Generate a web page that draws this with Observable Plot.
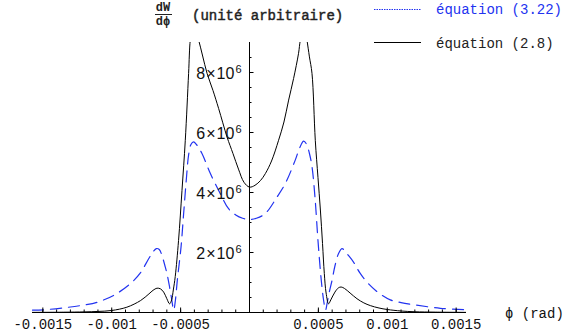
<!DOCTYPE html>
<html><head><meta charset="utf-8">
<script src="https://cdn.jsdelivr.net/npm/d3@7"></script>
<script src="https://cdn.jsdelivr.net/npm/@observablehq/plot@0.6"></script>
<style>
body{margin:0;background:#fff;}
#wrap{position:relative;width:566px;height:333px;background:#fff;}
#wrap svg{position:absolute;left:0;top:0;}
</style></head><body><div id="wrap"></div>
<script>
// φ in units of 1e-3 rad, dW/dφ in units of 1e6
const phiBlack = [-1.575,-1.35,-1.2,-1.1,-1.0,-0.89,-0.79,-0.73,-0.70,-0.671,-0.647,-0.623,-0.60,-0.58,-0.565,-0.553,-0.539,-0.515,-0.490,-0.466,-0.442,-0.43,-0.415,-0.395,-0.369,-0.34,-0.308,-0.265,-0.224,-0.163,-0.12,-0.08,-0.04,0,
  0.04,0.08,0.115,0.16,0.211,0.25,0.284,0.32,0.356,0.369,0.39,0.405,0.417,0.435,0.4536,0.4775,0.497,0.514,0.53,0.543,0.556,0.574,0.59,0.62,0.645,0.665,0.69,0.73,0.78,0.83,0.877,0.94,1.0,1.1,1.2,1.35,1.575];
const wBlack = [0.004,0.01,0.02,0.035,0.067,0.177,0.40,0.62,0.74,0.81,0.79,0.68,0.46,0.29,0.42,0.75,1.2,2.40,4.07,5.74,7.97,9.08,9.5,9.5,9.08,8.55,7.97,7.4,6.8,5.85,5.3,4.78,4.34,4.18,
  4.24,4.40,4.63,5.05,5.74,6.35,7.08,7.8,8.64,9.08,9.45,9.4,9.08,8.52,7.97,5.74,4.5,3.45,2.3,1.3,0.65,0.29,0.42,0.68,0.82,0.85,0.8,0.65,0.46,0.32,0.23,0.15,0.1,0.05,0.025,0.012,0.004];
const phiBlue = [-1.575,-1.494,-1.324,-1.2,-1.107,-0.986,-0.865,-0.792,-0.732,-0.70,-0.676,-0.655,-0.632,-0.611,-0.599,-0.58,-0.565,-0.55,-0.538,-0.524,-0.497,-0.478,-0.459,-0.442,-0.425,-0.406,-0.385,-0.345,-0.284,-0.212,-0.152,-0.1,-0.05,0,
  0.05,0.115,0.2,0.26,0.332,0.365,0.393,0.415,0.435,0.454,0.477,0.497,0.521,0.538,0.552,0.565,0.58,0.599,0.62,0.645,0.671,0.69,0.71,0.755,0.80,0.853,0.93,1.022,1.1,1.191,1.385,1.575];
const wBlue = [0.08,0.09,0.17,0.25,0.34,0.57,0.96,1.32,1.79,2.02,2.13,2.1,1.85,1.51,1.30,0.85,0.45,0.08,0.4,1.07,2.18,3.30,4.41,5.25,5.6,5.69,5.6,5.30,4.63,3.96,3.46,3.25,3.14,3.1,
  3.14,3.30,3.85,4.30,5.08,5.5,5.71,5.6,5.3,4.85,3.74,2.40,1.07,0.4,0.08,0.35,0.7,1.07,1.55,1.95,2.13,2.07,1.95,1.68,1.33,1.01,0.68,0.42,0.33,0.26,0.14,0.09];

const seriesNames = ["équation (3.22)", "équation (2.8)"];
const xTickValues = [-0.0015,-0.001,-0.0005,0.0005,0.001,0.0015];
const xTickLabels = ["-0.0015","-0.001","-0.0005","0.0005","0.001","0.0015"];
const yTickValues = [2e6,4e6,6e6,8e6];
const yTickLabels = ["2×10^6","4×10^6","6×10^6","8×10^6"];
const xMinor = d3.range(-15,16).map(k => k*1e-4);
const yMinor = d3.range(1,18).map(k => k*5e5);

const blackData = phiBlack.map((p,i) => ({x: p*1e-3, y: wBlack[i]*1e6}));
const blueData = phiBlue.map((p,i) => ({x: p*1e-3, y: wBlue[i]*1e6}));

const BLUE = "#2233f0";
const mono = "Liberation Mono, DejaVu Sans Mono, monospace";
const sans = "Liberation Sans, Arial, sans-serif";

const plot = Plot.plot({
  width: 566, height: 333,
  marginLeft: 32, marginRight: 100, marginTop: 42, marginBottom: 21,
  x: {domain: [-0.001575, 0.001575], axis: null},
  y: {domain: [0, 9e6], axis: null},
  style: {background: "white", overflow: "visible"},
  marks: [
    Plot.line(blueData, {x: "x", y: "y", stroke: BLUE, strokeWidth: 1.2, strokeDasharray: "11,7", curve: "catmull-rom", clip: true}),
    Plot.line(blackData, {x: "x", y: "y", stroke: "black", strokeWidth: 1, curve: "catmull-rom", clip: true}),
    Plot.ruleY([0], {stroke: "black"}),
    Plot.ruleX([0], {stroke: "black"}),
    Plot.ruleX(xMinor, {x: d => d, y1: 0, y2: 0, insetTop: -2.5, stroke: "black"}),
    Plot.ruleX(xTickValues, {x: d => d, y1: 0, y2: 0, insetTop: -4.5, stroke: "black"}),
    Plot.ruleY(yMinor, {y: d => d, x1: 0, x2: 0, insetRight: -2.5, stroke: "black"}),
    Plot.ruleY(yTickValues, {y: d => d, x1: 0, x2: 0, insetRight: -4.5, stroke: "black"}),
    Plot.text(xTickValues, {x: d => d, y: 0, text: (d, i) => xTickLabels[i], dy: 12, fontFamily: mono, fontSize: 14, fill: "#111"}),
    Plot.text(yTickValues, {x: 0, y: d => d, text: (d, i) => yTickLabels[i], dx: -8, dy: 1, textAnchor: "end", fontFamily: sans, fontSize: 16, fill: "#111"})
  ]
});
document.getElementById("wrap").appendChild(plot);

// superscripts for y tick labels
d3.select(plot).selectAll("text").each(function() {
  const t = this.textContent;
  const m = /^(\d)×10\^(\d)$/.exec(t);
  if (m) {
    const s = d3.select(this);
    s.text(null);
    s.append("tspan").text(m[1]);
    s.append("tspan").attr("dx", 1).text("×");
    s.append("tspan").attr("dx", 1).text("10");
    s.append("tspan").attr("font-size", 11).attr("dy", -6).attr("dx", 1).text(m[2]);
  }
});

// annotations: title, legend, axis label
const ov = d3.select("#wrap").append("svg").attr("width", 566).attr("height", 333);
ov.append("text").attr("x", 163).attr("y", 10.5).attr("text-anchor", "middle")
  .attr("font-family", mono).attr("font-weight", "bold").attr("font-size", 12).attr("fill", "#222").text("dW");
ov.append("line").attr("x1", 155).attr("x2", 172).attr("y1", 14.5).attr("y2", 14.5).attr("stroke", "#222").attr("stroke-width", 1);
ov.append("text").attr("x", 163).attr("y", 25).attr("text-anchor", "middle")
  .attr("font-family", mono).attr("font-weight", "bold").attr("font-size", 12).attr("fill", "#222").text("dϕ");
ov.append("text").attr("x", 192).attr("y", 20)
  .attr("font-family", mono).attr("font-size", 14).attr("fill", "#222")
  .attr("stroke", "#222").attr("stroke-width", 0.45).text("(unité arbitraire)");

ov.append("line").attr("x1", 374).attr("x2", 421).attr("y1", 9.5).attr("y2", 9.5)
  .attr("stroke", BLUE).attr("stroke-width", 1.2).attr("stroke-dasharray", "1.5,1");
ov.append("text").attr("x", 436).attr("y", 13.5).attr("font-family", mono).attr("font-size", 14).attr("fill", BLUE).text(seriesNames[0]);
ov.append("line").attr("x1", 374).attr("x2", 421).attr("y1", 42.5).attr("y2", 42.5)
  .attr("stroke", "black").attr("stroke-width", 1);
ov.append("text").attr("x", 436).attr("y", 48).attr("font-family", mono).attr("font-size", 14).attr("fill", "#222").text(seriesNames[1]);

ov.append("text").attr("x", 505).attr("y", 318).attr("font-family", mono).attr("font-size", 14).attr("fill", "#111").text("ϕ (rad)");
</script></body></html>
